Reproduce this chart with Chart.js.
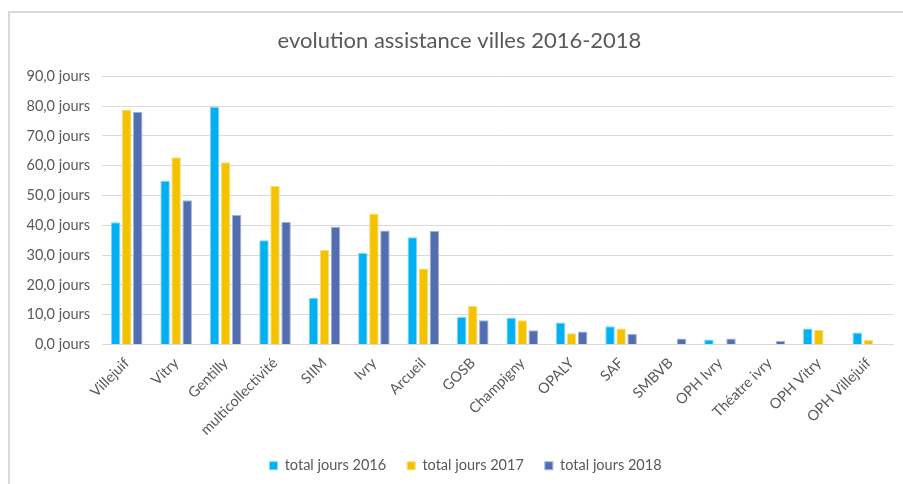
<!DOCTYPE html>
<html>
<head>
<meta charset="utf-8">
<script src="https://cdn.jsdelivr.net/npm/chart.js@4.4.0/dist/chart.umd.min.js"></script>
<style>
  html, body { margin: 0; padding: 0; background: #fff; }
  #wrap { position: relative; width: 903px; height: 484px; }
  #frame {
    position: absolute; left: 8px; top: 11px; right: 0; bottom: 0;
    border-top: 2px solid #d9d9d9; border-left: 2px solid #d9d9d9;
    pointer-events: none;
  }
  canvas { position: absolute; left: 0; top: 0; }
</style>
</head>
<body>
<div id="wrap">
  <canvas id="chart" width="903" height="484"></canvas>
  <div id="frame"></div>
</div>
<script>
// categories & series (jours)
const villes = ['Villejuif', 'Vitry', 'Gentilly', 'multicollectivité', 'SIIM', 'Ivry', 'Arcueil', 'GOSB',
  'Champigny', 'OPALY', 'SAF', 'SMBVB', 'OPH Ivry', 'Théatre ivry', 'OPH Vitry', 'OPH Villejuif'];
const jours2016 = [41.0, 55.0, 79.8, 35.0, 15.7, 30.7, 36.0, 9.2, 9.0, 7.4, 6.1, null, 1.7, null, 5.4, 4.0];
const jours2017 = [78.9, 62.9, 61.2, 53.3, 31.7, 44.0, 25.5, 12.9, 8.1, 3.8, 5.4, null, null, null, 4.9, 1.5];
const jours2018 = [78.1, 48.4, 43.5, 41.1, 39.5, 38.3, 38.1, 8.1, 4.8, 4.4, 3.5, 2.0, 2.0, 1.2, null, null];
const seriesNames = ['total jours 2016', 'total jours 2017', 'total jours 2018'];

const textColor = '#595959';
const gridColor = '#d9d9d9';
const font = 'Lato, "Open Sans", sans-serif';

function barSet(label, data, color, edge) {
  return {
    label, data,
    backgroundColor: color,
    borderColor: edge,
    borderWidth: 1,
    barPercentage: 0.86,
    categoryPercentage: 0.67,
  };
}

// title and legend sit a bit right of the canvas centre, like the original
const nudge = {
  id: 'nudge',
  afterLayout(chart) {
    const shift = (box, dx) => { if (box) { box.left += dx; box.right += dx; } };
    shift(chart.titleBlock, 8);
    shift(chart.legend, 14);
  },
};

new Chart(document.getElementById('chart'), {
  type: 'bar',
  data: {
    labels: villes,
    datasets: [
      barSet(seriesNames[0], jours2016, '#00b0f0', '#7fd6f6'),
      barSet(seriesNames[1], jours2017, '#f5c200', '#f9dc7a'),
      barSet(seriesNames[2], jours2018, '#526db0', '#a2b2d6'),
    ],
  },
  plugins: [nudge],
  options: {
    responsive: false,
    animation: false,
    layout: { padding: { left: 10, right: 10, top: 0, bottom: 1 } },
    plugins: {
      title: {
        display: true,
        text: 'evolution assistance villes 2016-2018',
        color: textColor,
        font: { family: font, size: 22, weight: 'normal' },
        padding: { top: 28, bottom: 22 },
      },
      legend: {
        position: 'bottom',
        labels: {
          color: textColor,
          font: { family: font, size: 14.5 },
          boxWidth: 8,
          boxHeight: 8,
          padding: 21,
        },
      },
      tooltip: { enabled: false },
    },
    scales: {
      x: {
        grid: { display: false },
        border: { color: gridColor },
        ticks: {
          color: textColor,
          font: { family: font, size: 14.5 },
          minRotation: 45,
          maxRotation: 45,
          autoSkip: false,
          padding: 2,
        },
        afterFit: (s) => { s.height = 93; },
      },
      y: {
        min: 0,
        max: 90,
        grid: { color: gridColor, drawTicks: false },
        border: { display: false },
        ticks: {
          stepSize: 10,
          color: textColor,
          font: { family: font, size: 14.5 },
          padding: 12,
          callback: (v) => v.toFixed(1).replace('.', ',') + ' jours',
        },
        afterFit: (s) => { s.width = 92; },
      },
    },
  },
});
</script>
</body>
</html>
